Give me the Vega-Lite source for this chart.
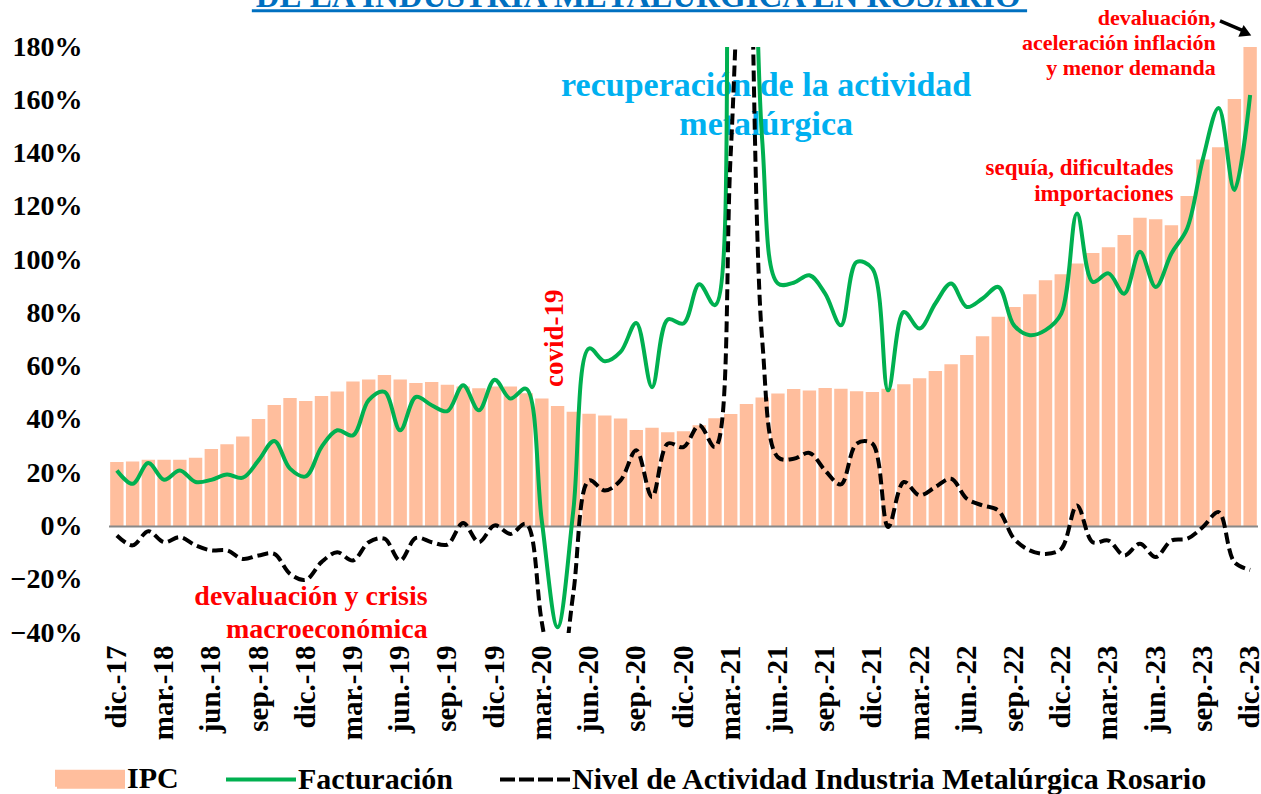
{
  "$schema": "https://vega.github.io/schema/vega-lite/v6.json",
  "width": 1149,
  "height": 586,
  "autosize": {"type": "none"},
  "padding": {"left": 109, "top": 47, "right": 3, "bottom": 161},
  "background": "white",
  "config": {
    "view": {"stroke": null},
    "font": "Liberation Serif",
    "axisY": {"ticks": false, "domain": false, "grid": false, "labelFlush": false, "labelOverlap": false},
    "axisX": {"labelPadding": 12, "ticks": false, "domain": false, "grid": false, "labelOverlap": false}
  },
  "data": {"values": [
    {"mes": "dic.-17", "ipc": 0.242, "fact": 0.210, "act": -0.034},
    {"mes": "ene.-18", "ipc": 0.244, "fact": 0.160, "act": -0.071},
    {"mes": "feb.-18", "ipc": 0.250, "fact": 0.238, "act": -0.018},
    {"mes": "mar.-18", "ipc": 0.250, "fact": 0.175, "act": -0.059},
    {"mes": "abr.-18", "ipc": 0.250, "fact": 0.210, "act": -0.040},
    {"mes": "may.-18", "ipc": 0.258, "fact": 0.167, "act": -0.071},
    {"mes": "jun.-18", "ipc": 0.291, "fact": 0.175, "act": -0.090},
    {"mes": "jul.-18", "ipc": 0.309, "fact": 0.195, "act": -0.090},
    {"mes": "ago.-18", "ipc": 0.338, "fact": 0.183, "act": -0.122},
    {"mes": "sep.-18", "ipc": 0.403, "fact": 0.248, "act": -0.109},
    {"mes": "oct.-18", "ipc": 0.456, "fact": 0.321, "act": -0.103},
    {"mes": "nov.-18", "ipc": 0.482, "fact": 0.217, "act": -0.178},
    {"mes": "dic.-18", "ipc": 0.471, "fact": 0.188, "act": -0.200},
    {"mes": "ene.-19", "ipc": 0.490, "fact": 0.298, "act": -0.134},
    {"mes": "feb.-19", "ipc": 0.507, "fact": 0.361, "act": -0.097},
    {"mes": "mar.-19", "ipc": 0.544, "fact": 0.342, "act": -0.128},
    {"mes": "abr.-19", "ipc": 0.552, "fact": 0.474, "act": -0.059},
    {"mes": "may.-19", "ipc": 0.569, "fact": 0.505, "act": -0.046},
    {"mes": "jun.-19", "ipc": 0.552, "fact": 0.361, "act": -0.128},
    {"mes": "jul.-19", "ipc": 0.539, "fact": 0.486, "act": -0.043},
    {"mes": "ago.-19", "ipc": 0.542, "fact": 0.455, "act": -0.059},
    {"mes": "sep.-19", "ipc": 0.532, "fact": 0.433, "act": -0.068},
    {"mes": "oct.-19", "ipc": 0.525, "fact": 0.530, "act": 0.013},
    {"mes": "nov.-19", "ipc": 0.519, "fact": 0.436, "act": -0.059},
    {"mes": "dic.-19", "ipc": 0.525, "fact": 0.551, "act": 0.004},
    {"mes": "ene.-20", "ipc": 0.525, "fact": 0.480, "act": -0.028},
    {"mes": "feb.-20", "ipc": 0.500, "fact": 0.517, "act": 0.010},
    {"mes": "mar.-20", "ipc": 0.480, "fact": 0.020, "act": -0.360},
    {"mes": "abr.-20", "ipc": 0.452, "fact": -0.378, "act": -0.650},
    {"mes": "may.-20", "ipc": 0.431, "fact": 0.060, "act": -0.250},
    {"mes": "jun.-20", "ipc": 0.423, "fact": 0.668, "act": 0.173},
    {"mes": "jul.-20", "ipc": 0.417, "fact": 0.620, "act": 0.135},
    {"mes": "ago.-20", "ipc": 0.405, "fact": 0.655, "act": 0.173},
    {"mes": "sep.-20", "ipc": 0.362, "fact": 0.764, "act": 0.286},
    {"mes": "oct.-20", "ipc": 0.371, "fact": 0.523, "act": 0.110},
    {"mes": "nov.-20", "ipc": 0.354, "fact": 0.777, "act": 0.311},
    {"mes": "dic.-20", "ipc": 0.357, "fact": 0.762, "act": 0.298},
    {"mes": "ene.-21", "ipc": 0.380, "fact": 0.909, "act": 0.380},
    {"mes": "feb.-21", "ipc": 0.406, "fact": 0.831, "act": 0.298},
    {"mes": "mar.-21", "ipc": 0.422, "fact": 2.500, "act": 1.400},
    {"mes": "abr.-21", "ipc": 0.460, "fact": 3.000, "act": 2.600},
    {"mes": "may.-21", "ipc": 0.484, "fact": 1.450, "act": 0.700},
    {"mes": "jun.-21", "ipc": 0.499, "fact": 0.912, "act": 0.260},
    {"mes": "jul.-21", "ipc": 0.516, "fact": 0.915, "act": 0.254},
    {"mes": "ago.-21", "ipc": 0.510, "fact": 0.943, "act": 0.276},
    {"mes": "sep.-21", "ipc": 0.520, "fact": 0.874, "act": 0.210},
    {"mes": "oct.-21", "ipc": 0.517, "fact": 0.755, "act": 0.158},
    {"mes": "nov.-21", "ipc": 0.508, "fact": 0.993, "act": 0.311},
    {"mes": "dic.-21", "ipc": 0.505, "fact": 0.968, "act": 0.311},
    {"mes": "ene.-22", "ipc": 0.517, "fact": 0.511, "act": -0.002},
    {"mes": "feb.-22", "ipc": 0.534, "fact": 0.805, "act": 0.167},
    {"mes": "mar.-22", "ipc": 0.556, "fact": 0.743, "act": 0.117},
    {"mes": "abr.-22", "ipc": 0.584, "fact": 0.837, "act": 0.148},
    {"mes": "may.-22", "ipc": 0.609, "fact": 0.912, "act": 0.179},
    {"mes": "jun.-22", "ipc": 0.644, "fact": 0.824, "act": 0.104},
    {"mes": "jul.-22", "ipc": 0.714, "fact": 0.856, "act": 0.079},
    {"mes": "ago.-22", "ipc": 0.787, "fact": 0.899, "act": 0.060},
    {"mes": "sep.-22", "ipc": 0.824, "fact": 0.755, "act": -0.046},
    {"mes": "oct.-22", "ipc": 0.872, "fact": 0.718, "act": -0.090},
    {"mes": "nov.-22", "ipc": 0.924, "fact": 0.737, "act": -0.103},
    {"mes": "dic.-22", "ipc": 0.947, "fact": 0.799, "act": -0.084},
    {"mes": "ene.-23", "ipc": 0.987, "fact": 1.175, "act": 0.079},
    {"mes": "feb.-23", "ipc": 1.027, "fact": 0.918, "act": -0.059},
    {"mes": "mar.-23", "ipc": 1.048, "fact": 0.950, "act": -0.053},
    {"mes": "abr.-23", "ipc": 1.094, "fact": 0.874, "act": -0.109},
    {"mes": "may.-23", "ipc": 1.159, "fact": 1.031, "act": -0.065},
    {"mes": "jun.-23", "ipc": 1.153, "fact": 0.899, "act": -0.115},
    {"mes": "jul.-23", "ipc": 1.131, "fact": 1.025, "act": -0.053},
    {"mes": "ago.-23", "ipc": 1.241, "fact": 1.119, "act": -0.046},
    {"mes": "sep.-23", "ipc": 1.378, "fact": 1.380, "act": -0.002},
    {"mes": "oct.-23", "ipc": 1.424, "fact": 1.571, "act": 0.054},
    {"mes": "nov.-23", "ipc": 1.605, "fact": 1.263, "act": -0.134},
    {"mes": "dic.-23", "ipc": 1.800, "fact": 1.620, "act": -0.163}
  ]},
  "layer": [
    {
      "mark": {"type": "bar", "clip": true},
      "encoding": {
        "x": {
          "field": "mes", "type": "ordinal", "title": null,
          "scale": {
            "domain": ["dic.-17","ene.-18","feb.-18","mar.-18","abr.-18","may.-18","jun.-18","jul.-18","ago.-18","sep.-18","oct.-18","nov.-18","dic.-18","ene.-19","feb.-19","mar.-19","abr.-19","may.-19","jun.-19","jul.-19","ago.-19","sep.-19","oct.-19","nov.-19","dic.-19","ene.-20","feb.-20","mar.-20","abr.-20","may.-20","jun.-20","jul.-20","ago.-20","sep.-20","oct.-20","nov.-20","dic.-20","ene.-21","feb.-21","mar.-21","abr.-21","may.-21","jun.-21","jul.-21","ago.-21","sep.-21","oct.-21","nov.-21","dic.-21","ene.-22","feb.-22","mar.-22","abr.-22","may.-22","jun.-22","jul.-22","ago.-22","sep.-22","oct.-22","nov.-22","dic.-22","ene.-23","feb.-23","mar.-23","abr.-23","may.-23","jun.-23","jul.-23","ago.-23","sep.-23","oct.-23","nov.-23","dic.-23"],
            "paddingInner": 0.15, "paddingOuter": 0.075
          },
          "axis": {
            "values": ["dic.-17","mar.-18","jun.-18","sep.-18","dic.-18","mar.-19","jun.-19","sep.-19","dic.-19","mar.-20","jun.-20","sep.-20","dic.-20","mar.-21","jun.-21","sep.-21","dic.-21","mar.-22","jun.-22","sep.-22","dic.-22","mar.-23","jun.-23","sep.-23","dic.-23"],
            "labelAngle": -90, "labelFont": "Liberation Serif", "labelFontWeight": "bold",
            "labelFontSize": 29, "labelColor": "#000000", "labelPadding": 12,
            "ticks": false, "domain": false, "grid": false, "labelOverlap": false
          }
        },
        "y": {
          "field": "ipc", "type": "quantitative", "title": null,
          "scale": {"domain": [-0.4, 1.8], "nice": false, "zero": false},
          "axis": {
            "values": [-0.4, -0.2, 0, 0.2, 0.4, 0.6, 0.8, 1.0, 1.2, 1.4, 1.6, 1.8],
            "format": ".0%", "labelFont": "Liberation Serif", "labelFontWeight": "bold",
            "labelFontSize": 28, "labelColor": "#000000", "labelPadding": 2, "offset": 25,
            "ticks": false, "domain": false, "grid": false, "labelFlush": false, "labelOverlap": false
          }
        },
        "color": {
          "datum": "IPC", "type": "nominal",
          "scale": {
            "domain": ["IPC", "Facturación", "Nivel de Actividad Industria Metalúrgica Rosario"],
            "range": ["#FFBE9D", "#00B050", "#000000"]
          },
          "legend": {
            "title": null, "orient": "none", "legendX": -56, "legendY": 695,
            "direction": "horizontal", "padding": 0,
            "symbolSize": 4900, "symbolStrokeWidth": 4,
            "labelFont": "Liberation Serif", "labelFontWeight": "bold", "labelFontSize": 30,
            "labelColor": "#000000", "labelOffset": 0, "columnPadding": 39, "labelLimit": 900,
            "encode": {
              "symbols": {
                "update": {
                  "shape": [
                    {"test": "datum.value === 'IPC'", "value": "M-0.943,-0.214H0.943V0.214H-0.943Z"},
                    {"value": "stroke"}
                  ],
                  "fill": [
                    {"test": "datum.value === 'IPC'", "value": "#FFBE9D"},
                    {"value": "transparent"}
                  ],
                  "stroke": [
                    {"test": "datum.value === 'IPC'", "value": "transparent"},
                    {"test": "datum.value === 'Facturación'", "value": "#00B050"},
                    {"value": "#000000"}
                  ],
                  "strokeWidth": {"value": 4},
                  "opacity": {"value": 1},
                  "strokeDash": [
                    {"test": "datum.value === 'Nivel de Actividad Industria Metalúrgica Rosario'", "value": [15, 4]},
                    {"value": [1, 0]}
                  ]
                }
              }
            }
          }
        }
      }
    },
    {
      "data": {"values": [{}]},
      "mark": {"type": "rule", "color": "#888888", "strokeWidth": 2},
      "encoding": {"y": {"datum": 0, "type": "quantitative"}}
    },
    {
      "data": {"values": [{}]},
      "mark": {"type": "text", "align": "center", "baseline": "alphabetic", "font": "Liberation Serif", "fontWeight": "bold", "fontSize": 33, "color": "#0070C0"},
      "encoding": {
        "x": {"datum": "sep.-20", "type": "ordinal", "bandPosition": 0.64},
        "y": {"datum": 1.95, "type": "quantitative"},
        "text": {"value": "DE LA INDUSTRIA METALÚRGICA EN ROSARIO"}
      }
    },
    {
      "data": {"values": [{}]},
      "mark": {"type": "rule", "color": "#0070C0", "strokeWidth": 3},
      "encoding": {
        "x": {"datum": "sep.-18", "type": "ordinal", "bandPosition": 0},
        "x2": {"datum": "oct.-22", "bandPosition": 0.3},
        "y": {"datum": 1.936, "type": "quantitative"}
      }
    },
    {
      "data": {"values": [{}]},
      "mark": {"type": "text", "align": "right", "baseline": "alphabetic", "font": "Liberation Serif", "fontWeight": "bold", "fontSize": 28, "color": "#FF0000", "lineHeight": 33, "dx": -4},
      "encoding": {
        "x": {"datum": "ago.-19", "type": "ordinal"},
        "y": {"datum": -0.294, "type": "quantitative"},
        "text": {"value": ["devaluación y crisis", "macroeconómica"]}
      }
    },
    {
      "data": {"values": [{}]},
      "mark": {"type": "text", "align": "center", "baseline": "alphabetic", "angle": 270, "font": "Liberation Serif", "fontWeight": "bold", "fontSize": 27, "color": "#FF0000", "dy": 5},
      "encoding": {
        "x": {"datum": "abr.-20", "type": "ordinal"},
        "y": {"datum": 0.707, "type": "quantitative"},
        "text": {"value": "covid-19"}
      }
    },
    {
      "data": {"values": [{}]},
      "mark": {"type": "text", "align": "center", "baseline": "alphabetic", "font": "Liberation Serif", "fontWeight": "bold", "fontSize": 34, "color": "#00B0F0", "lineHeight": 39, "dx": 4},
      "encoding": {
        "x": {"datum": "may.-21", "type": "ordinal"},
        "y": {"datum": 1.615, "type": "quantitative"},
        "text": {"value": ["recuperación de la actividad", "metalúrgica"]}
      }
    },
    {
      "data": {"values": [{}]},
      "mark": {"type": "text", "align": "right", "baseline": "alphabetic", "font": "Liberation Serif", "fontWeight": "bold", "fontSize": 23, "color": "#FF0000", "lineHeight": 26, "dx": 2},
      "encoding": {
        "x": {"datum": "jul.-23", "type": "ordinal"},
        "y": {"datum": 1.319, "type": "quantitative"},
        "text": {"value": ["sequía, dificultades", "importaciones"]}
      }
    },
    {
      "data": {"values": [{}]},
      "mark": {"type": "text", "align": "right", "baseline": "alphabetic", "font": "Liberation Serif", "fontWeight": "bold", "fontSize": 22, "color": "#FF0000", "lineHeight": 25, "dx": -3},
      "encoding": {
        "x": {"datum": "oct.-23", "type": "ordinal"},
        "y": {"datum": 1.881, "type": "quantitative"},
        "text": {"value": ["devaluación,", "aceleración inflación", "y menor demanda"]}
      }
    },
    {
      "data": {"values": [{}]},
      "mark": {"type": "rule", "color": "#000000", "strokeWidth": 3.5},
      "encoding": {
        "x": {"datum": "oct.-23", "type": "ordinal", "bandPosition": 0.6},
        "x2": {"datum": "dic.-23", "bandPosition": 0.05},
        "y": {"datum": 1.898, "type": "quantitative"},
        "y2": {"datum": 1.860}
      }
    },
    {
      "data": {"values": [{}]},
      "mark": {"type": "point", "shape": "triangle-right", "filled": true, "color": "#000000", "size": 170, "angle": 24, "opacity": 1},
      "encoding": {
        "x": {"datum": "dic.-23", "type": "ordinal", "bandPosition": 0.2},
        "y": {"datum": 1.852, "type": "quantitative"}
      }
    },
    {
      "mark": {"type": "line", "clip": true, "strokeWidth": 4, "interpolate": "catmull-rom"},
      "encoding": {
        "x": {"field": "mes", "type": "ordinal", "title": null},
        "y": {"field": "fact", "type": "quantitative", "title": null},
        "color": {"datum": "Facturación", "type": "nominal"}
      }
    },
    {
      "mark": {"type": "line", "clip": true, "strokeWidth": 4, "strokeDash": [11, 5], "interpolate": "catmull-rom"},
      "encoding": {
        "x": {"field": "mes", "type": "ordinal", "title": null},
        "y": {"field": "act", "type": "quantitative", "title": null},
        "color": {"datum": "Nivel de Actividad Industria Metalúrgica Rosario", "type": "nominal"}
      }
    }
  ]
}
